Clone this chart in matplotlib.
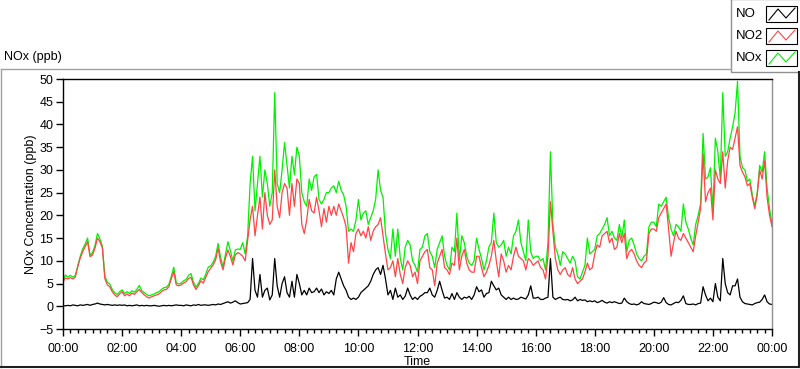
import numpy as np
import matplotlib
matplotlib.use("Agg")
import matplotlib.pyplot as plt
from matplotlib.patches import Rectangle

# 5-minute samples from 00:00 to 24:00 (one row per hour)
no = [
    0.1, 0.1, 0.2, 0.1, 0.3, 0.2, 0.1, 0.3, 0.2, 0.3, 0.4, 0.2,
    0.4, 0.5, 0.7, 0.5, 0.4, 0.3, 0.4, 0.3, 0.2, 0.3, 0.2, 0.3,
    0.2, 0.3, 0.1, 0.2, 0.1, 0.2, 0.3, 0.1, 0.2, 0.1, 0.2, 0.1,
    0.1, 0.2, 0.1, 0.0, 0.1, 0.2, 0.1, 0.2, 0.1, 0.2, 0.3, 0.2,
    0.2, 0.1, 0.3, 0.2, 0.1, 0.3, 0.2, 0.4, 0.2, 0.3, 0.3, 0.2,
    0.3, 0.4, 0.3, 0.5, 0.4, 0.6, 0.8, 1.0, 0.7, 0.9, 1.2, 0.8,
    0.5, 0.6, 0.7, 0.8, 1.5, 10.5, 3.5, 2.0, 7.0, 2.0, 3.5, 4.0,
    1.4, 2.5, 10.5, 4.5, 2.0, 5.0, 6.5, 3.0, 2.0, 5.5, 2.0, 7.0,
    5.0, 2.5, 3.5, 2.5, 4.0, 3.0, 3.2, 4.0, 3.0, 3.8, 2.5, 3.2,
    2.8, 3.5, 2.5, 6.0, 7.5, 6.0, 4.5, 3.5, 2.0, 1.5, 1.8, 1.5,
    2.0, 3.0, 3.5, 4.0, 4.5, 5.5, 7.0, 8.0, 8.5, 7.0, 9.0, 6.0,
    2.5, 3.5, 1.5, 4.0, 2.0, 2.5, 1.5, 2.2, 4.0, 2.5, 1.5, 2.0,
    1.5, 2.2, 2.5, 3.0, 3.0, 4.0, 2.5, 2.0, 3.5, 5.5, 3.5, 1.8,
    2.0, 1.5, 2.8, 1.5, 3.0, 2.0, 1.5, 2.0, 1.8, 2.2, 1.5, 2.5,
    4.3, 3.2, 3.6, 2.0, 2.8, 3.0, 5.5, 4.5, 3.6, 4.0, 2.5, 2.0,
    1.5, 2.0, 1.5, 1.8, 1.5, 1.6, 2.0, 1.8, 1.6, 2.5, 4.5, 1.8,
    1.8, 2.0, 1.5, 1.5, 1.8, 2.0, 10.5, 2.0, 1.5, 1.8, 2.0, 1.5,
    1.4, 1.5, 1.2, 1.4, 2.0, 1.2, 1.5, 1.3, 1.4, 1.0, 1.2, 1.0,
    1.2, 0.8, 1.0, 1.3, 0.9, 0.7, 1.0, 0.8, 1.0, 0.8, 0.6, 0.7,
    1.8, 1.0, 0.6, 0.4, 0.5, 0.3, 0.5, 1.0, 0.6, 0.5, 0.4, 0.6,
    0.9, 0.8, 0.6, 0.9, 1.9, 0.8, 0.4, 0.3, 0.6, 0.9, 0.8, 1.3,
    2.3, 0.6, 0.4, 0.4, 0.5, 0.3, 0.6, 0.7, 4.3, 2.5, 1.2, 1.8,
    1.0, 5.0, 2.0, 1.2, 10.5, 5.0, 3.0, 2.5, 4.5, 4.5, 6.0, 2.0,
    1.0, 0.6, 0.5, 0.4, 0.3, 0.6, 0.8, 0.9, 1.5, 2.5, 1.0, 0.5,
    0.4,
]

no2 = [
    5.4, 6.2, 6.0, 6.3, 6.0, 6.4, 8.7, 10.6, 12.0, 13.1, 14.2, 10.9,
    11.3, 12.8, 15.0, 14.2, 12.8, 6.1, 4.7, 4.3, 3.2, 2.5, 2.1, 2.7,
    3.2, 2.3, 2.7, 2.3, 2.9, 2.6, 3.2, 3.7, 3.0, 2.5, 2.1, 1.8,
    2.1, 2.3, 2.5, 2.7, 3.2, 3.6, 3.7, 4.3, 6.1, 7.6, 4.7, 4.5,
    4.7, 5.1, 5.4, 6.1, 6.4, 4.7, 3.7, 4.5, 5.6, 5.1, 6.4, 7.6,
    8.4, 9.1, 10.2, 12.8, 9.8, 8.0, 10.6, 12.4, 10.9, 9.1, 11.3, 11.8,
    11.5, 11.0, 10.0, 14.5, 19.0, 22.0, 15.5, 20.0, 24.0, 17.0, 25.0, 20.0,
    18.0, 19.0, 30.0, 22.0, 19.5, 25.0, 27.0, 26.0, 20.0, 27.0, 22.0, 28.0,
    27.0, 18.0, 16.0, 19.0, 23.5, 21.0, 20.5, 24.0, 21.0, 17.5, 21.5, 18.5,
    22.0, 20.0, 22.0, 20.0, 22.5, 21.0, 19.5, 17.5, 9.5, 14.0, 12.0, 16.0,
    17.0, 15.5, 16.5, 15.0, 17.5, 14.5, 16.5, 17.5, 18.0, 19.5, 15.5, 11.5,
    8.0, 8.5, 10.0, 6.5, 10.5, 7.0, 5.0, 8.5, 10.0, 9.0, 6.5, 7.5,
    5.0, 10.0, 11.0, 12.0, 12.5, 8.5, 8.0, 4.5, 9.5, 11.0, 12.5, 8.5,
    8.0, 7.0, 9.5, 9.0, 15.0, 8.0, 11.0, 12.5, 9.5, 8.0, 7.5, 7.5,
    11.0, 11.0, 8.5, 6.5, 7.5, 9.0, 11.0, 14.5, 10.0, 6.5, 11.5, 10.0,
    7.5, 9.0, 8.0, 11.0, 13.0, 11.0, 10.5, 10.0, 8.0, 10.5, 10.0, 9.0,
    9.5, 10.0, 8.5, 8.0, 6.0, 11.0, 23.0, 16.5, 10.5, 8.0, 7.0, 8.0,
    8.5, 7.0, 6.5, 8.5, 6.0, 5.0, 5.5, 6.0, 7.5, 9.5, 8.0, 8.5,
    11.5, 13.5, 13.0, 15.5, 16.0, 16.5, 14.0, 15.0, 12.5, 13.0, 16.0, 14.0,
    16.0, 10.5, 12.0, 12.5, 11.5, 10.0, 9.0, 8.5, 9.5, 10.0, 16.0, 17.0,
    17.0, 16.5, 19.5, 20.5, 21.5, 22.5, 17.0, 11.0, 14.0, 16.5, 15.0, 14.5,
    16.0, 15.0, 14.0, 13.0, 12.0, 15.5, 18.5, 21.5, 33.5, 23.0, 25.0, 26.0,
    19.0, 30.0, 28.0, 27.0, 34.0, 26.0, 32.0, 35.0, 34.5, 37.0, 39.5, 31.0,
    29.5, 28.5, 26.5, 27.0, 24.0, 21.5, 24.5, 30.0, 28.0, 32.0, 24.0, 20.0,
    17.5,
]

nox = [
    5.6, 6.9, 6.4, 6.8, 6.4, 6.8, 8.9, 11.0, 12.6, 13.7, 15.0, 11.2,
    11.8, 13.4, 16.0, 14.8, 13.2, 6.6, 5.3, 4.9, 3.7, 3.0, 2.6, 3.2,
    3.6, 2.8, 3.2, 2.8, 3.4, 3.1, 3.7, 4.6, 3.4, 3.0, 2.6, 2.3,
    2.5, 2.7, 3.0, 3.2, 3.7, 4.1, 4.2, 4.8, 6.6, 8.6, 5.2, 4.9,
    5.1, 5.6, 5.9, 6.8, 7.2, 5.3, 4.2, 5.0, 6.2, 5.8, 7.1, 8.6,
    8.9, 9.7, 11.0, 13.8, 10.8, 8.7, 11.5, 14.2, 12.2, 10.0, 12.4, 12.6,
    12.5, 14.0, 11.5, 15.5, 27.0, 33.0, 21.0, 27.0, 33.0, 24.0, 30.0, 27.0,
    22.0, 25.0, 47.0, 27.0, 25.0, 30.0, 36.0, 31.0, 26.0, 33.0, 29.0, 35.0,
    33.0, 25.0, 23.0, 22.0, 28.0, 25.5, 28.5, 29.0, 23.5, 22.5, 23.5, 25.0,
    25.0, 26.0, 26.5, 25.0, 27.5, 25.5, 24.5, 22.0, 16.5, 17.0, 16.5, 19.0,
    23.5, 19.0, 20.5, 21.0, 18.0, 19.5, 21.0, 23.5, 30.0, 25.5, 24.0, 16.0,
    12.5, 10.5, 17.0, 11.0, 17.0, 10.5, 8.0, 13.0, 14.5, 13.5, 10.0, 9.0,
    7.5, 12.5, 13.0, 15.5, 16.0, 12.0, 11.0, 8.5, 12.5, 14.0, 15.5, 11.0,
    9.0, 8.0, 13.0, 12.0, 20.5, 10.0, 15.5, 14.0, 11.0, 9.5, 9.0, 10.0,
    15.0, 12.5, 10.5, 8.0, 10.0, 13.0, 14.0, 20.5, 14.0, 13.0, 13.5, 14.5,
    11.0, 13.0, 11.5, 15.5, 16.5, 19.0, 14.0, 12.0, 10.0, 19.0, 12.0, 10.5,
    11.0, 11.0, 10.0, 10.5, 8.0, 14.0, 34.0, 18.0, 13.0, 11.5, 9.0, 12.0,
    11.5, 10.5, 9.5, 11.0, 10.0, 6.5, 6.0, 7.5, 9.0, 15.0, 11.5, 12.0,
    12.5, 15.5, 16.0, 17.0, 18.0, 19.5, 15.5, 16.5, 15.0, 14.5, 18.0, 15.0,
    19.0, 12.0, 14.5, 15.0, 13.5, 11.5, 10.5, 10.0, 11.0, 11.5, 17.5, 18.5,
    18.5, 17.5, 22.5, 22.0, 23.0, 24.0, 19.5, 17.0, 15.5, 18.0, 17.5, 16.5,
    22.5, 18.5, 17.0, 15.0, 13.5, 18.0, 20.0, 22.5, 38.0, 28.0, 28.5, 30.5,
    21.0, 37.0, 34.0, 28.0, 47.0, 33.0, 34.0, 37.0, 39.5, 42.5, 49.5, 33.0,
    30.5, 30.0, 27.5, 28.0, 24.5, 22.0, 25.0, 31.0, 29.5, 34.0, 26.0, 21.5,
    18.0,
]

sample_minutes = 5
hour_ticks = list(range(0, 25, 2))
tick_labels = ["%02d:00" % (h % 24) for h in hour_ticks]

plt.rcParams["font.family"] = ["Liberation Sans", "DejaVu Sans"]

hours = np.arange(len(no2)) * sample_minutes / 60.0

fig = plt.figure(figsize=(8, 3.69), dpi=100)
ax = fig.add_axes([63 / 800, 1 - 329 / 369, 709 / 800, 250 / 369])

ax.plot(hours, nox, color="#00f000", lw=0.9)
ax.plot(hours, no2, color="#ff4545", lw=0.9)
ax.plot(hours, no, color="black", lw=0.9)

ax.set_xlim(0, 24)
ax.set_ylim(-5, 50)
ax.set_yticks(range(-5, 51, 5))
ax.set_xticks(hour_ticks)
ax.set_xticklabels(tick_labels)
ax.set_xticks(np.arange(0, 24.01, 0.25), minor=True)
ax.tick_params(axis="both", which="major", direction="out", length=5,
               width=1, labelsize=9, pad=2)
ax.tick_params(axis="x", which="minor", direction="out", length=3, width=1)
ax.tick_params(axis="x", which="major", pad=5)

ax.spines["left"].set_color("black")
ax.spines["top"].set_color("black")
ax.spines["right"].set_color("#909090")
ax.spines["bottom"].set_color("black")
for s in ax.spines.values():
    s.set_linewidth(1)

ax.set_xlabel("Time", fontsize=9, labelpad=1)
ax.set_ylabel("NOx Concentration (ppb)", fontsize=9)
ax.yaxis.set_label_coords(-26 / 709, 0.5)

# frame, title and legend drawn in pixel space
ov = fig.add_axes([0, 0, 1, 1], zorder=10)
ov.set_xlim(0, 800)
ov.set_ylim(369, 0)
ov.axis("off")
ov.patch.set_alpha(0)

ov.plot([0.5, 731], [69, 69], color="#a0a0a0", lw=1)
ov.plot([0.5, 0.5], [69, 367], color="#a0a0a0", lw=1)
ov.plot([0, 800], [367, 367], color="#202020", lw=1.5)
ov.plot([799, 799], [72, 367], color="#202020", lw=1.5)
ov.text(4, 57, "NOx (ppb)", fontsize=9, va="center", ha="left")

ov.add_patch(Rectangle((730.5, -1), 70, 73, facecolor="white",
                       edgecolor="#909090", lw=1))
names = ["NO", "NO2", "NOx"]
colors = ["black", "#ff4545", "#00f000"]
for i, (name, c) in enumerate(zip(names, colors)):
    top = 6 + i * 22
    ov.text(736, top + 8, name, fontsize=9.5, va="center", ha="left")
    ov.add_patch(Rectangle((766, top), 31, 16, facecolor="white",
                           edgecolor="black", lw=0.8))
    ov.plot([769, 778, 786, 795], [top + 14, top + 3, top + 12, top + 2],
            color=c, lw=0.8)

fig.savefig("out.png", dpi=100)
